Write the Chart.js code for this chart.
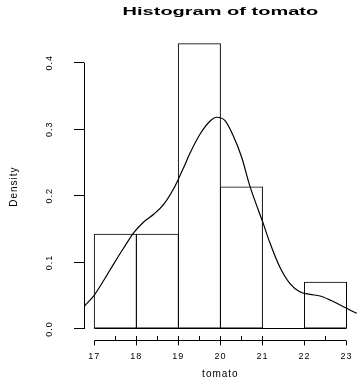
<!doctype html>
<html>
<head>
<meta charset="utf-8">
<title>Histogram of tomato</title>
<script src="https://cdn.jsdelivr.net/npm/chart.js@4.4.1/dist/chart.umd.min.js"></script>
<style>
  html, body { margin: 0; padding: 0; background: #fff; }
</style>
</head>
<body>
<canvas id="myChart" width="357" height="380"></canvas>
<script>
  const chartTitle = 'Histogram of tomato'
  const xTitle = 'tomato'
  const yTitle = 'Density'

  // histogram: bin edges and density of each bin
  const breaks = [17, 18, 19, 20, 21, 22, 23]
  const densities = [0.143, 0.143, 0.429, 0.214, 0, 0.071]

  // axis ticks
  const xTicks = [17, 18, 19, 20, 21, 22, 23]
  const yTicks = [0, 0.1, 0.2, 0.3, 0.4]

  // rug marks above the x axis
  const rugValues = [17.5, 18, 18.5, 19, 19.5, 20, 20.5, 21, 22.5]

  // density curve
  const curveX = [16.755, 17.0, 17.23, 17.47, 17.71, 17.94, 18.18, 18.42, 18.66, 18.89, 19.0, 19.13,
                  19.27, 19.51, 19.75, 19.91, 20.11, 20.3, 20.5, 20.7, 20.9, 21.0, 21.18, 21.41,
                  21.65, 21.89, 22.13, 22.37, 22.61, 22.85, 23.08, 23.245]
  const curveY = [0.0335, 0.051, 0.0736, 0.0986, 0.1227, 0.1446, 0.161, 0.1727, 0.188, 0.211, 0.225, 0.243,
                  0.263, 0.292, 0.312, 0.318, 0.313, 0.291, 0.259, 0.215, 0.179, 0.162, 0.129, 0.0935,
                  0.0686, 0.056, 0.052, 0.0495, 0.0435, 0.036, 0.0285, 0.0235]

  const FONT = '"Liberation Sans", Arial, sans-serif'

  const bars = densities.map((d, i) => ({x: (breaks[i] + breaks[i + 1]) / 2, y: d}))
  const curve = curveX.map((x, i) => ({x: x, y: curveY[i]}))

  // R style axes: lines only between first and last tick, plus rug and title
  const rStyle = {
    id: 'rStyle',
    beforeDraw(chart) {
      chart.ctx.letterSpacing = '1px'
    },
    afterDatasetsDraw(chart) {
      chart.ctx.letterSpacing = '2px'
    },
    afterDraw(chart) {
      const {ctx, chartArea, scales: {x, y}} = chart
      ctx.save()
      ctx.letterSpacing = '0px'
      ctx.strokeStyle = '#000'
      ctx.lineWidth = 1
      ctx.beginPath()
      const ax = Math.floor(chartArea.left) + 0.5
      ctx.moveTo(ax, y.getPixelForValue(yTicks[0]))
      ctx.lineTo(ax, y.getPixelForValue(yTicks[yTicks.length - 1]))
      const ay = Math.floor(chartArea.bottom) + 0.5
      ctx.moveTo(x.getPixelForValue(xTicks[0]), ay)
      ctx.lineTo(x.getPixelForValue(xTicks[xTicks.length - 1]), ay)
      rugValues.forEach(v => {
        const px = Math.round(x.getPixelForValue(v)) + 0.5
        ctx.moveTo(px, ay)
        ctx.lineTo(px, ay - 4.5)
      })
      // bottom of the histogram (shows the empty bin)
      const by = Math.round(y.getPixelForValue(0)) - 0.5
      ctx.moveTo(x.getPixelForValue(breaks[0]), by)
      ctx.lineTo(x.getPixelForValue(breaks[breaks.length - 1]), by)
      ctx.stroke()

      ctx.fillStyle = '#000'
      ctx.font = 'bold 10px ' + FONT
      ctx.textAlign = 'center'
      ctx.textBaseline = 'alphabetic'
      ctx.translate((chartArea.left + chartArea.right) / 2, 15)
      ctx.scale(2, 1)
      ctx.fillText(chartTitle, 0, 0)
      ctx.restore()
    }
  }

  const ctx = document.getElementById('myChart').getContext('2d')
  const myChart = new Chart(ctx, {
    type: 'bar',
    data: {
      datasets: [
        {
          type: 'line',
          data: curve,
          borderColor: '#000',
          borderWidth: 1.2,
          pointRadius: 0,
          cubicInterpolationMode: 'monotone',
          fill: false,
        },
        {
          type: 'bar',
          data: bars,
          backgroundColor: 'rgba(255,255,255,0)',
          borderColor: '#000',
          borderWidth: 1,
          borderSkipped: false,
          inflateAmount: 0,
          categoryPercentage: 1,
          // a hair wider than one bin so neighbouring edges share one line
          barPercentage: 1.024,
        },
      ]
    },
    options: {
      responsive: false,
      animation: false,
      devicePixelRatio: 1,
      layout: { padding: { top: 32.2, right: 0, left: 0, bottom: 0 } },
      scales: {
        x: {
          type: 'linear',
          min: 16.755,
          max: 23.245,
          offset: false,
          z: 1,
          afterBuildTicks: (scale) => { scale.ticks = xTicks.map(v => ({value: v})) },
          afterFit: (scale) => { scale.height = 39.1 },
          grid: { display: true, drawOnChartArea: false, offset: false, tickLength: 4.5, color: '#000', lineWidth: 1 },
          border: { display: false },
          ticks: {
            color: '#000',
            font: { family: FONT, size: 9 },
            padding: 5.5,
            maxRotation: 0,
            autoSkip: false,
          },
          title: {
            display: true,
            text: xTitle,
            color: '#000',
            font: { family: FONT, size: 10 },
            padding: { top: 0, bottom: 0 },
          },
        },
        y: {
          min: -0.0179,
          max: 0.4457,
          afterBuildTicks: (scale) => { scale.ticks = yTicks.map(v => ({value: v})) },
          afterFit: (scale) => { scale.width = 84 },
          grid: { display: true, drawOnChartArea: false, tickLength: 10, color: '#000', lineWidth: 1 },
          border: { display: false },
          ticks: {
            color: '#000',
            font: { family: FONT, size: 9 },
            minRotation: 90,
            maxRotation: 90,
            crossAlign: 'center',
            padding: 18,
            callback: (value) => value.toFixed(1),
          },
          title: {
            display: true,
            text: yTitle,
            color: '#000',
            font: { family: FONT, size: 10 },
            padding: { top: 8.5, bottom: 0 },
          },
        },
      },
      plugins: {
        legend: { display: false },
        tooltip: { enabled: false },
        title: { display: false },
      }
    },
    plugins: [rStyle]
  })
</script>
</body>
</html>
